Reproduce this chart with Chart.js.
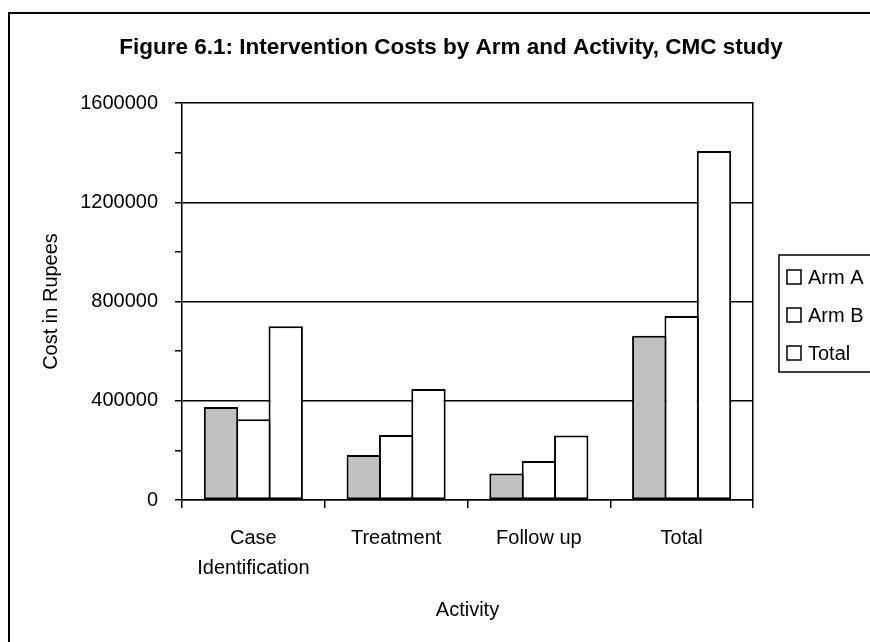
<!DOCTYPE html>
<html>
<head>
<meta charset="utf-8">
<script src="https://cdn.jsdelivr.net/npm/chart.js@4/dist/chart.umd.min.js"></script>
<style>
html,body{margin:0;padding:0;background:#fff;overflow:hidden;}
#wrap{width:870px;height:642px;position:relative;}
</style>
</head>
<body>
<div id="wrap"><canvas id="c" width="870" height="642"></canvas></div>
<script>
const categories = [['Case','Identification'], 'Treatment', 'Follow up', 'Total'];
const armA = [375000, 181000, 107000, 662000];
const armB = [325000, 262000, 157000, 742000];
const total = [700000, 447000, 260000, 1407000];
const yTicksMajor = [0, 400000, 800000, 1200000, 1600000];

const FONT = "'Liberation Sans', Arial, sans-serif";

const framePlugin = {
  id: 'frame',
  beforeDraw(chart) {
    const ctx = chart.ctx;
    ctx.save();
    ctx.fillStyle = '#fff';
    ctx.fillRect(0, 0, chart.width, chart.height);
    ctx.strokeStyle = '#000';
    ctx.lineWidth = 2;
    ctx.strokeRect(9, 13, 1000, 1000);
    ctx.restore();
  }
};

const legendPlugin = {
  id: 'boxLegend',
  afterDraw(chart) {
    const ctx = chart.ctx;
    const ds = chart.data.datasets;
    ctx.save();
    ctx.strokeStyle = '#000';
    ctx.lineWidth = 1.5;
    ctx.fillStyle = '#fff';
    ctx.fillRect(779, 255, 200, 117);
    ctx.strokeRect(779, 255, 200, 117);
    ctx.font = '20px ' + FONT;
    ctx.textBaseline = 'middle';
    ctx.textAlign = 'left';
    ds.forEach((d, i) => {
      const cy = 277 + i * 38;
      ctx.fillStyle = '#fff';
      ctx.fillRect(787, cy - 7, 14, 14);
      ctx.strokeRect(787, cy - 7, 14, 14);
      ctx.fillStyle = '#000';
      ctx.fillText(d.label, 808, cy + 1);
    });
    ctx.restore();
  }
};

new Chart(document.getElementById('c'), {
  type: 'bar',
  data: {
    labels: categories,
    datasets: [
      { label: 'Arm A', data: armA, backgroundColor: 'rgb(192,192,192)', borderColor: '#000', borderWidth: 2, borderSkipped: false },
      { label: 'Arm B', data: armB, backgroundColor: '#fff', borderColor: '#000', borderWidth: 2, borderSkipped: false },
      { label: 'Total', data: total, backgroundColor: '#fff', borderColor: '#000', borderWidth: 2, borderSkipped: false }
    ]
  },
  options: {
    responsive: false,
    animation: false,
    events: [],
    layout: { padding: { left: 32, right: 0, top: 0, bottom: 0 } },
    datasets: { bar: { barPercentage: 1.062, categoryPercentage: 0.68 } },
    plugins: {
      legend: { display: false },
      tooltip: { enabled: false },
      title: {
        display: true,
        text: 'Figure 6.1: Intervention Costs by Arm and Activity, CMC study',
        color: '#000',
        font: { family: FONT, size: 22.5, weight: 'bold' },
        padding: { top: 34, bottom: 42 }
      }
    },
    scales: {
      x: {
        offset: true,
        grid: { offset: true, drawOnChartArea: false, drawTicks: true, tickLength: 8, color: '#000', lineWidth: 1.5 },
        border: { display: true, color: '#000', width: 1.5 },
        ticks: { color: '#000', font: { family: FONT, size: 20, lineHeight: 1.5 }, padding: 15, maxRotation: 0, autoSkip: false },
        title: { display: true, text: 'Activity', color: '#000', font: { family: FONT, size: 20 }, padding: { top: 0, bottom: 20 } },
        afterFit(s) { s.height = 142; }
      },
      y: {
        min: 0, max: 1600000,
        afterBuildTicks(s) {
          const t = [];
          for (let i = 0; i < yTicksMajor.length; i++) {
            t.push({ value: yTicksMajor[i] });
            if (i < yTicksMajor.length - 1) t.push({ value: (yTicksMajor[i] + yTicksMajor[i + 1]) / 2 });
          }
          s.ticks = t;
        },
        grid: {
          color: c => (c.tick && yTicksMajor.includes(c.tick.value)) ? '#000' : 'rgba(0,0,0,0)',
          tickColor: '#000',
          lineWidth: 1.5,
          tickLength: 7,
          drawTicks: true
        },
        border: { display: true, color: '#000', width: 1.5 },
        ticks: {
          color: '#000',
          font: { family: FONT, size: 20 },
          padding: 17,
          callback: v => yTicksMajor.includes(v) ? String(v) : ''
        },
        title: { display: true, text: 'Cost in Rupees', color: '#000', font: { family: FONT, size: 20 }, padding: { top: 7, bottom: 0 } },
        afterFit(s) { s.width = 150; }
      },
      y2: {
        type: 'linear',
        position: 'right',
        display: true,
        grid: { display: false, drawTicks: false },
        ticks: { display: false },
        border: { display: true, color: '#000', width: 1.5 },
        afterFit(s) { s.width = 117; }
      }
    }
  },
  plugins: [framePlugin, legendPlugin]
});
</script>
</body>
</html>
